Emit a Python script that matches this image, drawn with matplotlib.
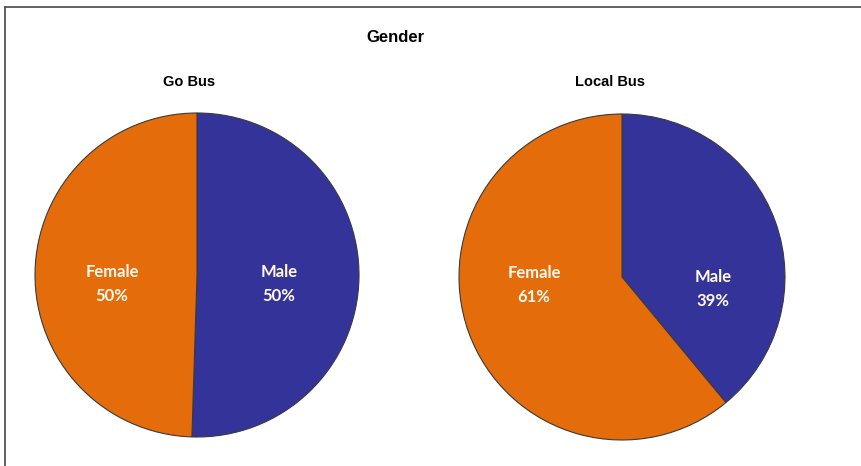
import matplotlib
matplotlib.use("Agg")
import matplotlib.pyplot as plt
from matplotlib.lines import Line2D

# Gender split of riders for each bus service (percent)
services = ["Go Bus", "Local Bus"]
genders = ["Male", "Female"]
go_bus = [50.5, 49.5]
local_bus = [39, 61]
series = [go_bus, local_bus]

colors = ["#333399", "#E46C0A"]

fig = plt.figure(figsize=(8.61, 4.66), dpi=100)

# thin frame along the top and left edges
fig.add_artist(Line2D([5 / 861, 5 / 861], [0, 1 - 7 / 466], transform=fig.transFigure,
                      color="#555555", lw=1.3))
fig.add_artist(Line2D([5 / 861, 1], [1 - 7 / 466, 1 - 7 / 466], transform=fig.transFigure,
                      color="#555555", lw=1.3))

fig.text(395 / 861, 1 - 38 / 466, "Gender", ha="center", va="center",
         fontsize=12, fontweight="bold", family="Liberation Sans")

axes_rects = [
    [35 / 861, 1 - 437 / 466, 324 / 861, 324 / 466],
    [459 / 861, 1 - 440 / 466, 326 / 861, 326 / 466],
]
title_pos = [(189 / 861, 1 - 82 / 466), (610 / 861, 1 - 82 / 466)]

# label anchor points inside each wedge (axes data units, pie radius = 1)
label_xy = [
    {"Male": (0.505, -0.055), "Female": (-0.525, -0.055)},
    {"Male": (0.56, -0.075), "Female": (-0.54, -0.05)},
]

for i, (name, vals) in enumerate(zip(services, series)):
    ax = fig.add_axes(axes_rects[i])
    ax.pie(vals, colors=colors, startangle=90, counterclock=False,
           wedgeprops=dict(edgecolor="#3a3a3a", linewidth=0.8))
    ax.set_xlim(-1.0, 1.0)
    ax.set_ylim(-1.0, 1.0)
    ax.set_aspect("equal")
    ax.axis("off")
    for g, v in zip(genders, vals):
        x, y = label_xy[i][g]
        ax.text(x, y, f"{g}\n{v:.0f}%", ha="center", va="center",
                color="#FFF8EE", fontsize=12, fontweight="bold",
                family="Lato", linespacing=1.6)
    fig.text(title_pos[i][0], title_pos[i][1], name, ha="center", va="center",
             fontsize=10.5, fontweight="bold", family="Liberation Sans")

fig.savefig("out.png", dpi=100)
